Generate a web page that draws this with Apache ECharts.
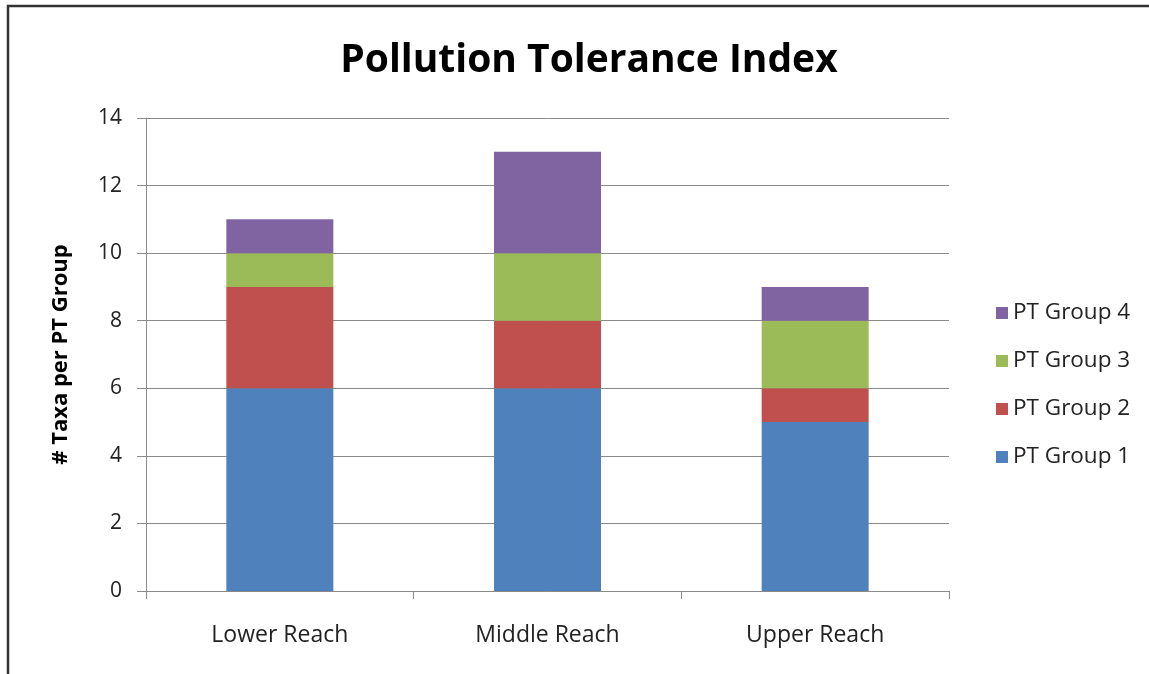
<!DOCTYPE html>
<html><head><meta charset="utf-8">
<script src="https://cdn.jsdelivr.net/npm/echarts@6/dist/echarts.min.js"></script>
<style>html,body{margin:0;padding:0;background:#fff}#c{width:1149px;height:674px}</style>
</head><body><div id="c"></div>
<script>
const categories = ['Lower Reach', 'Middle Reach', 'Upper Reach'];
const group1 = [6, 6, 5];
const group2 = [3, 2, 1];
const group3 = [1, 2, 2];
const group4 = [1, 3, 1];
const seriesNames = ['PT Group 1', 'PT Group 2', 'PT Group 3', 'PT Group 4'];
const seriesValues = [group1, group2, group3, group4];
const colors = ['#4F81BD', '#C0504D', '#9BBB59', '#8064A2'];
const FONT = '"Open Sans", Lato, sans-serif';

const chart = echarts.init(document.getElementById('c'));
chart.setOption({
  backgroundColor: '#fff',
  animation: false,
  title: {
    text: 'Pollution Tolerance Index',
    left: 584, top: 36, textAlign: 'center',
    textStyle: { fontFamily: FONT, fontWeight: 'bold', fontSize: 39, color: '#000' }
  },
  graphic: [{
    type: 'rect', shape: { x: 8, y: 6, width: 1200, height: 720 },
    style: { fill: null, stroke: '#333', lineWidth: 2.5 }, silent: true
  }],
  grid: { left: 146, right: 200, top: 118, bottom: 83 },
  legend: {
    orient: 'vertical', left: 991, top: 296,
    data: seriesNames.slice().reverse(),
    icon: 'rect', itemWidth: 12, itemHeight: 12, itemGap: 24,
    textStyle: { fontFamily: FONT, fontSize: 22.5, color: '#222', lineHeight: 24 }
  },
  xAxis: {
    type: 'category', data: categories,
    axisLine: { lineStyle: { color: '#8a8a8a', width: 1 } },
    axisTick: { show: true, length: 8, alignWithLabel: false, lineStyle: { color: '#8a8a8a' } },
    axisLabel: { fontFamily: FONT, fontSize: 23, color: '#222', margin: 33 }
  },
  yAxis: {
    type: 'value', min: 0, max: 14, interval: 2,
    name: '# Taxa per PT Group', nameLocation: 'middle', nameGap: 74, nameRotate: 90,
    nameTextStyle: { fontFamily: FONT, fontWeight: 'bold', fontSize: 22, color: '#000' },
    axisLine: { show: true, lineStyle: { color: '#8a8a8a', width: 1 } },
    axisTick: { show: true, length: 9, lineStyle: { color: '#8a8a8a' } },
    axisLabel: { fontFamily: FONT, fontSize: 21, color: '#222', margin: 24 },
    splitLine: { lineStyle: { color: '#8a8a8a', width: 1 } }
  },
  series: seriesNames.map((n, i) => ({
    name: n, type: 'bar', stack: 'total', data: seriesValues[i],
    barWidth: 107, itemStyle: { color: colors[i] }
  }))
});
</script></body></html>
